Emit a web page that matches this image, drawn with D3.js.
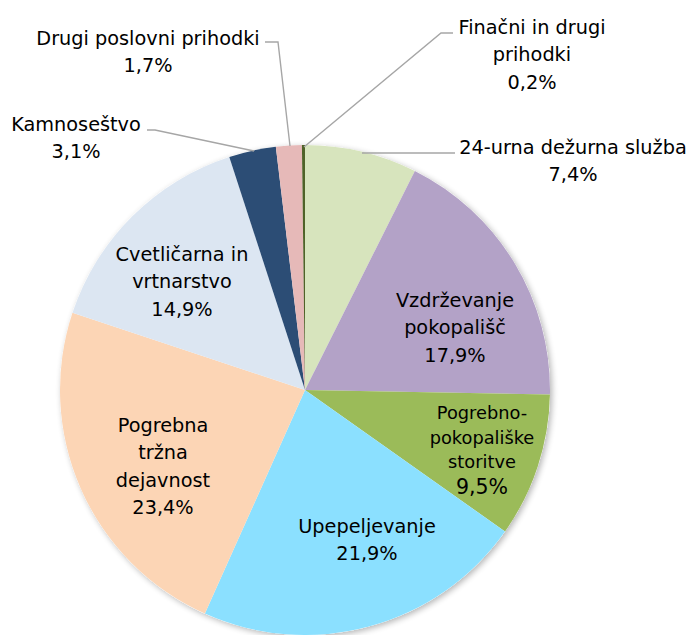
<!DOCTYPE html>
<html><head><meta charset="utf-8">
<script src="https://cdn.jsdelivr.net/npm/d3@7/dist/d3.min.js"></script>
<style>body{margin:0;background:#fff;}svg{display:block;}</style>
</head><body>
<svg id="chart" width="691" height="635"></svg>
<script>
const categories = ["24-urna dežurna služba","Vzdrževanje\npokopališč","Pogrebno-\npokopališke\nstoritve","Upepeljevanje","Pogrebna\ntržna\ndejavnost","Cvetličarna in\nvrtnarstvo","Kamnoseštvo","Drugi poslovni prihodki","Finačni in drugi\nprihodki"];
const values = [7.4,17.9,9.5,21.9,23.4,14.9,3.1,1.7,0.2];
const colors = ["#D7E4BD","#B3A2C7","#9BBB59","#8BE0FF","#FCD5B5","#DCE6F2","#2C4D75","#E6B9B8","#4F6228"];
// label layout: text anchor centre (x, y of first line), leader line points (or null), font size
const labelLayout = [
  {x:573, y:147, fs:19.3, line:[[455,153],[362,153]]},
  {x:455, y:300, fs:19.3, line:null},
  {x:482, y:413, fs:17.8, lastFs:20.5, lh:24.5, line:null},
  {x:367, y:526, fs:19.3, line:null},
  {x:163, y:425, fs:19.3, line:null},
  {x:182, y:254, fs:19.3, line:null},
  {x:76, y:124, fs:19.3, line:[[147,130],[155,130],[254,151]]},
  {x:148, y:38, fs:19.3, line:[[265,42],[278,42],[290,146]]},
  {x:532, y:27, fs:19.3, line:[[453,33],[441,33],[304,147]]}
];
const cx = 305, cy = 390, R = 245;
const svg = d3.select("#chart");
const defs = svg.append("defs");
const f = defs.append("filter").attr("id","sh").attr("x","-10%").attr("y","-10%").attr("width","120%").attr("height","120%");
f.append("feGaussianBlur").attr("in","SourceAlpha").attr("stdDeviation",3);
f.append("feOffset").attr("dx",2).attr("dy",2).attr("result","b");
f.append("feComponentTransfer").append("feFuncA").attr("type","linear").attr("slope",0.3);
const m = f.append("feMerge"); m.append("feMergeNode"); m.append("feMergeNode").attr("in","SourceGraphic");

const pie = d3.pie().sort(null).value(d=>d);
const arcs = pie(values);
const arc = d3.arc().innerRadius(0).outerRadius(R);
const g = svg.append("g").attr("transform",`translate(${cx},${cy})`);
g.append("circle").attr("r",R).attr("fill","#fff").attr("filter","url(#sh)");
g.selectAll("path").data(arcs).join("path").attr("d",arc).attr("fill",(d,i)=>colors[i]);

const fmt = v => d3.format(".1f")(v).replace(".",",")+"%";
const lineGen = d3.line();
labelLayout.forEach((L,i)=>{
  if(L.line) svg.append("path").attr("d",lineGen(L.line)).attr("fill","none").attr("stroke","#A6A6A6").attr("stroke-width",1.4);
});
labelLayout.forEach((L,i)=>{
  const lines = categories[i].split("\n").concat([fmt(values[i])]);
  const lh = L.lh || 27.5;
  const t = svg.append("text").attr("text-anchor","middle").attr("font-family","DejaVu Sans, Verdana, sans-serif").attr("fill","#000");
  lines.forEach((s,k)=>{
    const isLast = k===lines.length-1;
    const fs = (isLast && L.lastFs)?L.lastFs:L.fs;
    t.append("tspan").attr("x",L.x).attr("y",L.y+k*lh+fs*0.36)
      .attr("font-size",fs).text(s);
  });
});
</script>
</body></html>
